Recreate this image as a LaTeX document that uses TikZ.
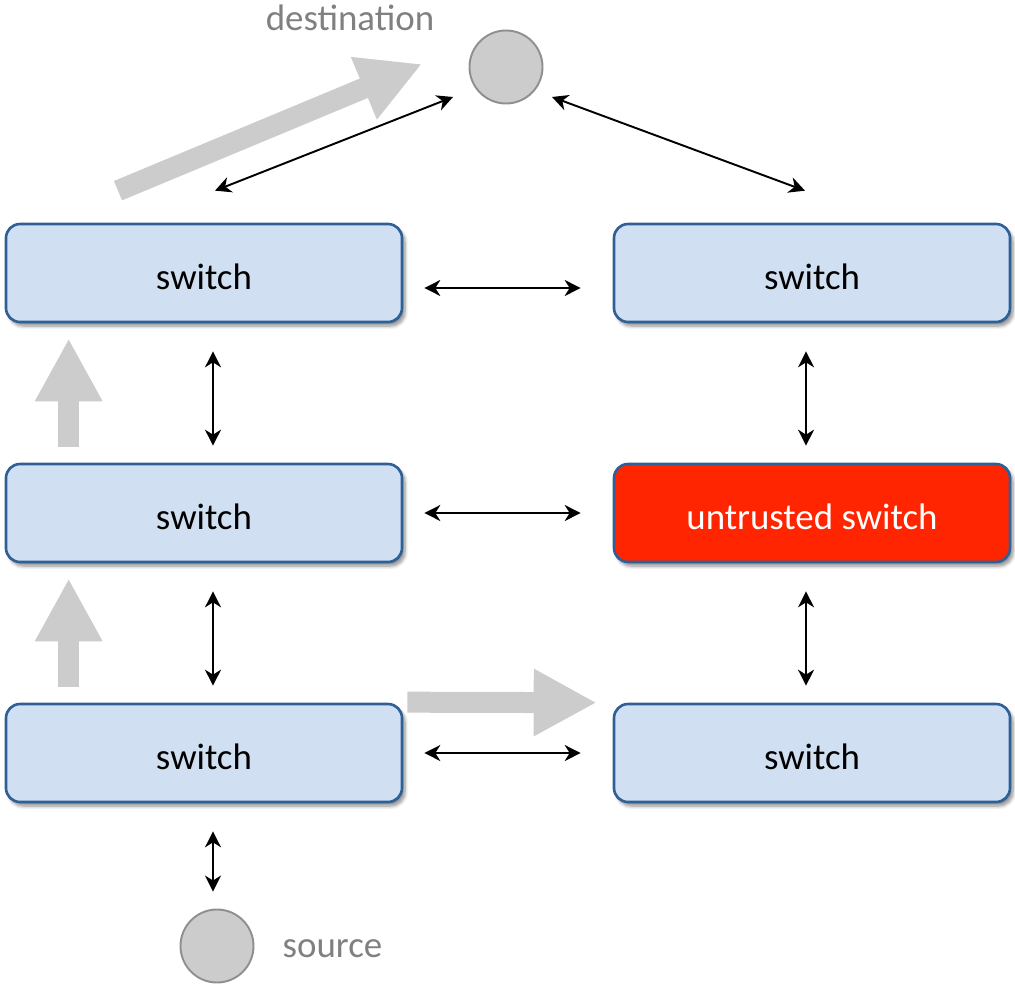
\documentclass[tikz,border=0pt]{standalone}
\usepackage{fontspec}
\setmainfont{Carlito}
\usepackage{xcolor}
\usepackage{tikz}
\usetikzlibrary{arrows.meta,shadows.blur}

\definecolor{boxfill}{HTML}{D0E0F2}
\definecolor{boxline}{HTML}{2F5F97}
\definecolor{alarmred}{HTML}{FF2500}
\definecolor{flowgray}{HTML}{CCCCCC}
\definecolor{hostline}{HTML}{8F8F8F}
\definecolor{labelgray}{HTML}{808080}

\begin{document}
\begin{tikzpicture}[
        node distance=4.8cm,
        font=\fontsize{21}{25}\selectfont,
        switchbox/.style={rectangle, draw=boxline, line width=1.5pt, fill=boxfill, rounded corners=0.28cm, minimum width=7.92cm, minimum height=1.96cm, align=center, text height=0.66cm,
            blur shadow={shadow xshift=0.06cm, shadow yshift=-0.08cm, shadow blur steps=6, shadow opacity=45}},
        host/.style={circle, draw=hostline, line width=1.1pt, fill=flowgray, minimum size=1.46cm, inner sep=0pt},
        link/.style={{Stealth[length=0.32cm, width=0.32cm, inset=0.1cm]}-{Stealth[length=0.32cm, width=0.32cm, inset=0.1cm]}, line width=1.1pt},
        flow/.style={draw=flowgray, line width=0.42cm, -{Triangle[length=1.26cm, width=1.26cm]}}
    ]
        \useasboundingbox (-4.08,-14.2) rectangle (16.22,5.46);

        % Switches
        \node[switchbox] (sl1) {switch};
        \node[switchbox, below of=sl1] (sl2) {switch};
        \node[switchbox, below of=sl2] (sl3) {switch};
        \node[switchbox, right of=sl1, xshift=7.36cm] (sr1) {switch};
        \node[switchbox, right of=sl2, xshift=7.36cm, fill=alarmred, text=white] (sr2) {untrusted switch};
        \node[switchbox, right of=sl3, xshift=7.36cm] (sr3) {switch};

        % End hosts
        \node[host, below of=sl3, xshift=0.26cm, yshift=0.94cm] (src) {};
        \node[host, above of=sl1, xshift=6.04cm, yshift=-0.68cm] (dst) {};
        \node[labelgray, anchor=west, xshift=0.44cm, yshift=-0.05cm] (srclabel) at (src.east) {source};
        \node[labelgray] (dstlabel) at ([xshift=-3.12cm, yshift=0.98cm]dst.center) {destination};

        % Links
        \draw[link] ([xshift=0.18cm, yshift=-0.56cm]sl1.south) -- ([xshift=0.18cm, yshift=0.34cm]sl2.north);
        \draw[link] ([xshift=0.18cm, yshift=-0.56cm]sl2.south) -- ([xshift=0.18cm, yshift=0.34cm]sl3.north);
        \draw[link] ([xshift=0.18cm, yshift=-0.56cm]sl3.south) -- ([xshift=-0.08cm, yshift=0.34cm]src.north);
        \draw[link] ([xshift=-0.12cm, yshift=-0.56cm]sr1.south) -- ([xshift=-0.12cm, yshift=0.34cm]sr2.north);
        \draw[link] ([xshift=-0.12cm, yshift=-0.56cm]sr2.south) -- ([xshift=-0.12cm, yshift=0.34cm]sr3.north);
        \draw[link] ([xshift=0.42cm, yshift=-0.3cm]sl1.east) -- ([xshift=-0.64cm, yshift=-0.3cm]sr1.west);
        \draw[link] ([xshift=0.42cm]sl2.east) -- ([xshift=-0.64cm]sr2.west);
        \draw[link] ([xshift=0.42cm]sl3.east) -- ([xshift=-0.64cm]sr3.west);
        \draw[link] ([xshift=0.22cm, yshift=0.64cm]sl1.north) -- ([xshift=-1.06cm, yshift=-0.6cm]dst.center);
        \draw[link] ([xshift=0.92cm, yshift=-0.6cm]dst.center) -- ([xshift=-0.14cm, yshift=0.64cm]sr1.north);

        % Traffic path
        \draw[flow] ([xshift=1.28cm, yshift=0.32cm]sl3.north west) -- ([xshift=1.28cm, yshift=-0.3cm]sl2.south west);
        \draw[flow] ([xshift=1.28cm, yshift=0.32cm]sl2.north west) -- ([xshift=1.28cm, yshift=-0.3cm]sl1.south west);
        \draw[flow] ([xshift=-1.72cm, yshift=0.64cm]sl1.north) -- ([xshift=-1.68cm, yshift=0.06cm]dst.center);
        \draw[flow] ([xshift=0.08cm, yshift=0.01cm]sl3.north east) -- ([xshift=-0.32cm]sr3.north west);
    \end{tikzpicture}
\end{document}
